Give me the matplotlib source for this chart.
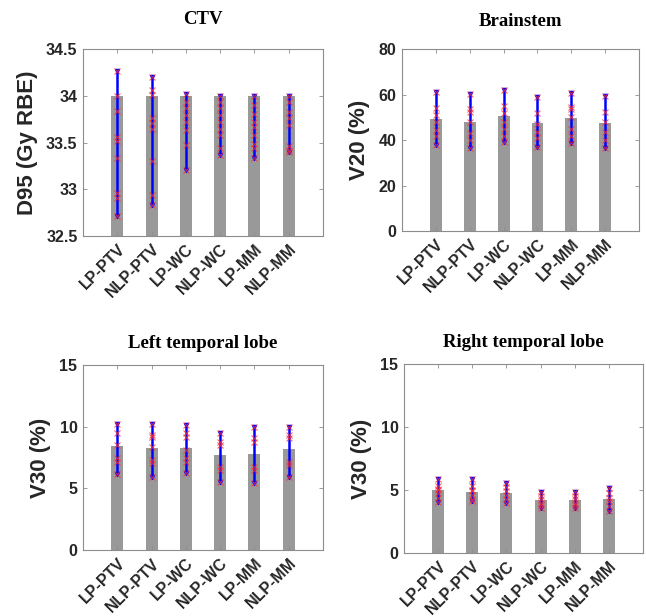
import matplotlib
matplotlib.use("Agg")
import matplotlib.pyplot as plt
import numpy as np

plans = ["LP-PTV", "NLP-PTV", "LP-WC", "NLP-WC", "LP-MM", "NLP-MM"]

# CTV D95 (Gy RBE)
ctv_bar = [34.0, 34.0, 34.0, 34.0, 34.0, 34.0]
ctv_pts = [
    [34.27, 34.0, 33.84, 33.56, 33.52, 33.34, 32.96, 32.91, 32.71],
    [34.20, 34.06, 34.01, 33.76, 33.71, 33.65, 33.30, 32.94, 32.83],
    [34.02, 33.94, 33.87, 33.80, 33.72, 33.64, 33.47, 33.21],
    [34.0, 33.94, 33.87, 33.80, 33.72, 33.65, 33.58, 33.44, 33.37],
    [34.0, 33.90, 33.81, 33.72, 33.67, 33.58, 33.49, 33.44, 33.34],
    [34.0, 33.94, 33.83, 33.76, 33.69, 33.46, 33.42, 33.40],
]

# Brainstem V20 (%)
bs_bar = [49.3, 48.0, 50.6, 47.6, 49.8, 47.7]
bs_pts = [
    [61.2, 54.0, 51.0, 48.0, 44.5, 42.0, 38.0],
    [60.3, 53.5, 52.5, 48.0, 43.0, 40.0, 36.5],
    [62.0, 55.0, 52.0, 48.0, 45.0, 42.0, 39.3],
    [58.9, 52.0, 47.0, 43.7, 40.8, 37.1],
    [60.9, 54.5, 53.5, 50.0, 45.0, 42.0, 38.6],
    [59.4, 52.5, 48.0, 43.7, 40.0, 36.4],
]

# Left temporal lobe V30 (%)
lt_bar = [8.46, 8.30, 8.24, 7.70, 7.81, 8.22]
lt_pts = [
    [10.22, 9.46, 8.51, 7.43, 7.16, 6.16],
    [10.22, 9.33, 9.19, 8.38, 7.30, 7.03, 5.95],
    [10.14, 9.46, 9.19, 8.11, 7.43, 7.16, 6.27],
    [9.51, 8.78, 8.51, 6.76, 6.49, 5.54],
    [9.95, 9.06, 8.78, 6.76, 6.49, 5.41],
    [9.95, 9.33, 9.06, 7.16, 6.89, 5.95],
]

# Right temporal lobe V30 (%)
rt_bar = [5.0, 4.87, 4.79, 4.21, 4.21, 4.29]
rt_pts = [
    [5.85, 5.3, 5.1, 5.0, 4.8, 4.4, 4.07],
    [5.85, 5.3, 5.0, 4.9, 4.6, 4.3, 4.1],
    [5.58, 5.2, 4.9, 4.6, 4.3, 3.94],
    [4.87, 4.5, 4.3, 4.0, 3.8, 3.54],
    [4.87, 4.5, 4.3, 4.0, 3.8, 3.54],
    [5.19, 4.8, 4.4, 4.1, 3.7, 3.36],
]

panels = [
    ("CTV", "D95 (Gy RBE)", ctv_bar, ctv_pts, (32.5, 34.5), [32.5, 33, 33.5, 34, 34.5],
     ["32.5", "33", "33.5", "34", "34.5"], [0.1285, 0.6169, 0.3715, 0.3031], 18),
    ("Brainstem", "V20 (%)", bs_bar, bs_pts, (0, 80), [0, 20, 40, 60, 80],
     ["0", "20", "40", "60", "80"], [0.6223, 0.625, 0.3669, 0.295], 17),
    ("Left temporal lobe", "V30 (%)", lt_bar, lt_pts, (0, 15), [0, 5, 10, 15],
     ["0", "5", "10", "15"], [0.1285, 0.1071, 0.3715, 0.3003], 12),
    ("Right temporal lobe", "V30 (%)", rt_bar, rt_pts, (0, 15), [0, 5, 10, 15],
     ["0", "5", "10", "15"], [0.6254, 0.1023, 0.37, 0.3068], 12),
]

fig = plt.figure(figsize=(6.46, 6.16), dpi=100)
text_col = "#262626"
spine_col = "#8c8c8c"

for title, ylabel, bars, pts, ylim, yticks, ylabels, pos, tpad in panels:
    ax = fig.add_axes(pos)
    x = np.arange(1, len(plans) + 1)
    floor = ylim[0]
    ax.bar(x, np.array(bars) - floor, bottom=floor, width=0.35, color="#999999", zorder=1)
    for xi, vals in zip(x, pts):
        lo, hi = min(vals), max(vals)
        ax.plot([xi, xi], [lo, hi], color="#0000ff", lw=1.8, zorder=3,
                marker="v", markersize=3, markevery=[0, 1])
        ax.plot([xi] * len(vals), vals, linestyle="none", marker="x",
                color="#ff3030", alpha=0.75, markersize=5, markeredgewidth=0.8, zorder=4)
    ax.set_xlim(0, 7)
    ax.set_ylim(*ylim)
    ax.set_yticks(yticks)
    ax.set_yticklabels(ylabels, fontsize=11.5, fontweight="bold", color=text_col,
                       family="Liberation Sans")
    ax.set_xticks(x)
    ax.set_xticklabels(plans, rotation=45, ha="right", rotation_mode="anchor",
                       fontsize=11.5, fontweight="bold", color=text_col,
                       family="Liberation Sans")
    ax.tick_params(direction="in", length=3, top=True, right=True, color=spine_col,
                   width=0.6, pad=4)
    for s in ax.spines.values():
        s.set_color(spine_col)
        s.set_linewidth(0.8)
    ax.set_ylabel(ylabel, fontsize=16, fontweight="bold", color=text_col,
                  family="Liberation Sans", labelpad=6)
    ax.set_title(title, fontsize=13.5, fontweight="bold", family="Liberation Serif",
                 color="black", pad=tpad)

fig.savefig("out.png", dpi=100)
